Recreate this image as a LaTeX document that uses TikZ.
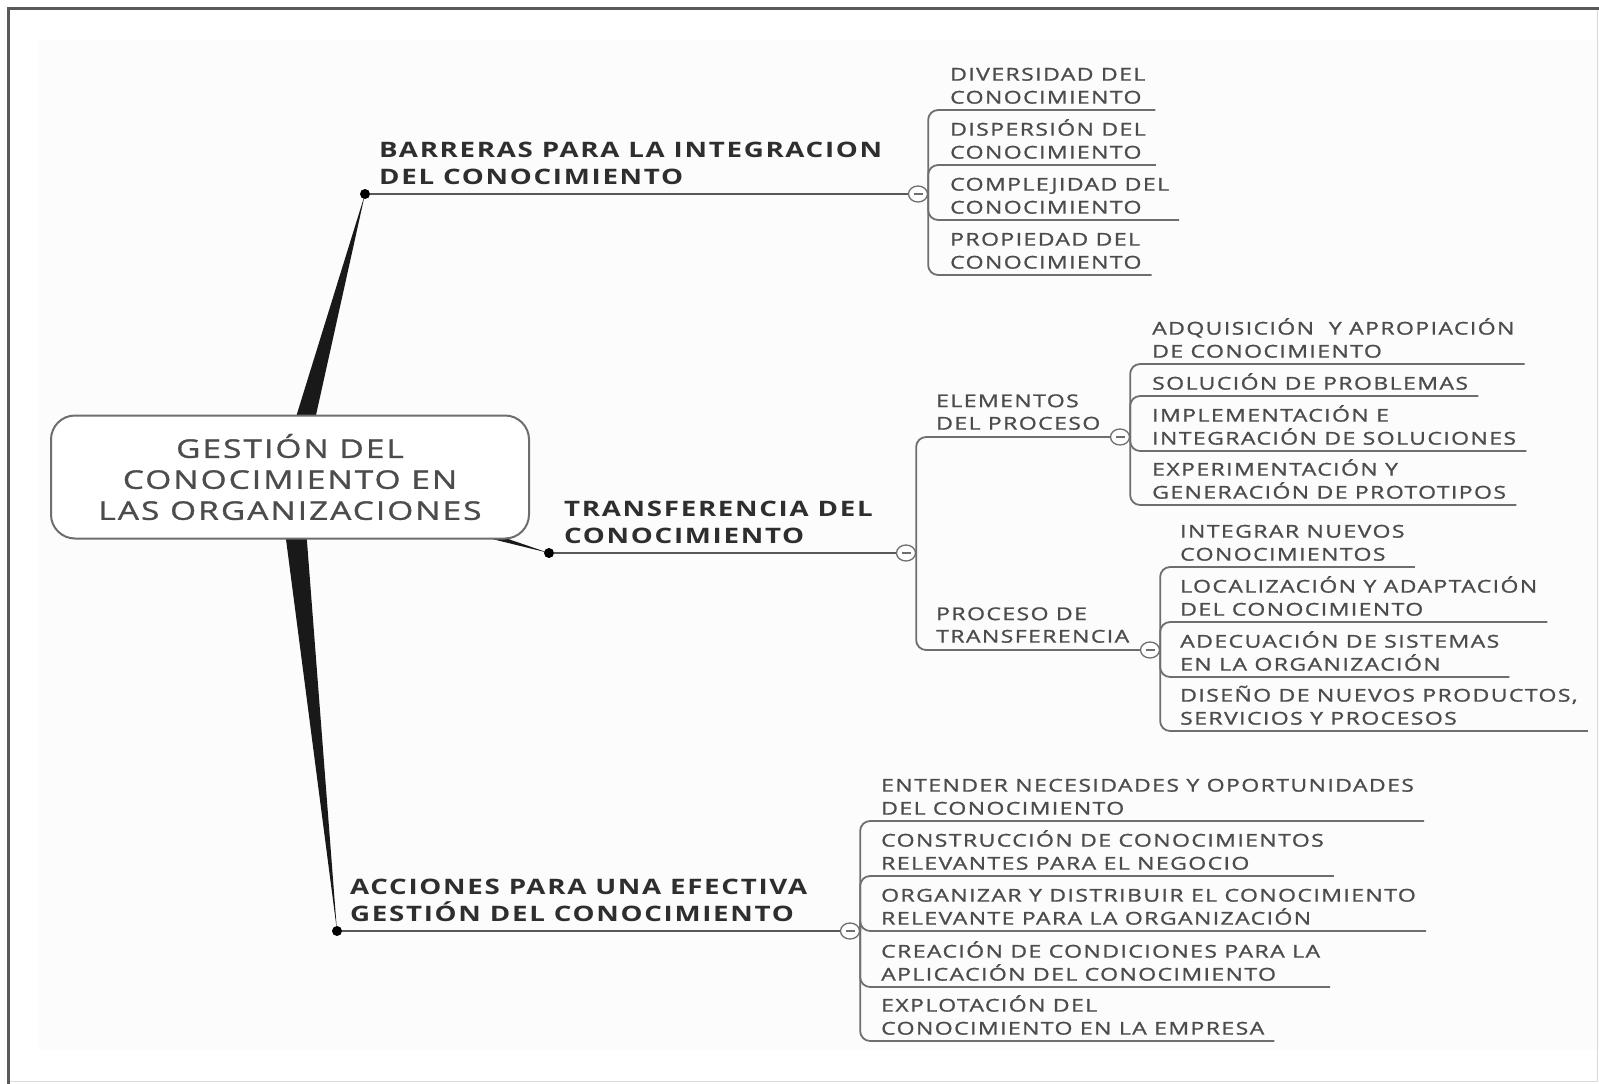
\documentclass[tikz,border=0pt]{standalone}
\usepackage{fontspec}
\setmainfont{Open Sans}[FakeStretch=1.3,LetterSpace=8]
\newfontfamily\mediumfam{Open Sans}[FakeStretch=1.3,LetterSpace=8,FakeBold=1.2]
\usetikzlibrary{calc,shapes.geometric}
\definecolor{inkgray}{HTML}{4C4C4C}
\definecolor{headink}{HTML}{2E2E2E}
\definecolor{rulegray}{HTML}{6E6E6E}

\begin{document}
\begin{tikzpicture}
  [x=1pt,y=-1pt,
   root/.style={draw=rulegray,line width=2pt,rounded corners=24pt,fill=white,
     minimum width=478pt,minimum height=123pt,align=center,
     font=\mediumfam\fontsize{25.7}{31}\selectfont,text=inkgray},
   knot/.style={circle,fill=black,inner sep=0pt,minimum size=10pt},
   wedge/.style={fill=black!90},
   head/.style={anchor=south west,inner xsep=0pt,inner ysep=9pt,align=left,
     font=\fontsize{21.3}{27.5}\selectfont\bfseries,text=headink},
   sub/.style={anchor=south west,inner xsep=0pt,inner ysep=7pt,align=left,
     font=\mediumfam\fontsize{17.7}{22.5}\selectfont,text=inkgray},
   leaf/.style={anchor=south west,inner xsep=10pt,inner ysep=6pt,align=left,
     font=\mediumfam\fontsize{17.7}{23}\selectfont,text=inkgray},
   fold/.style={ellipse,draw=rulegray,line width=1.3pt,fill=white,inner sep=0pt,
     minimum width=19pt,minimum height=16pt,
     path picture={\draw[rulegray,line width=1.2pt]
       ([xshift=5pt]path picture bounding box.west) --
       ([xshift=-5pt]path picture bounding box.east);}},
   branch/.style={draw=headink!80,line width=2pt},
   twig/.style={draw=rulegray,line width=1.8pt,rounded corners=10pt}]

  \useasboundingbox (0,0) rectangle (1599,1084);
  \fill[black!1] (38,40) rectangle (1599,1050);
  \draw[black!15,line width=1pt] (1597,8) -- (1597,1081) -- (8,1081);
  \draw[black!65,line width=3pt] (8,1084) -- (8,8) -- (1599,8);

  % main branches
  \coordinate (ctr) at (290,477);
  \node[knot] (b1) at (365,194) {};
  \node[knot] (b2) at (549,553) {};
  \node[knot] (b3) at (337,931) {};
  \foreach \tip in {b1,b2,b3}
    \fill[wedge] ($(ctr)!12pt!90:(\tip)$) -- (\tip.center)
      -- ($(ctr)!12pt!-90:(\tip)$) -- cycle;
  \node[root] (root) at (ctr) {GESTIÓN DEL\\CONOCIMIENTO EN\\LAS ORGANIZACIONES};

  \node[head] (hb) at (379,194) {BARRERAS PARA LA INTEGRACION\\DEL CONOCIMIENTO};
  \node[head] (ht) at (564,553) {TRANSFERENCIA DEL\\CONOCIMIENTO};
  \node[head] (ha) at (350,931) {ACCIONES PARA UNA EFECTIVA\\GESTIÓN DEL CONOCIMIENTO};

  \node[fold] (jb) at (918,194) {};
  \node[fold] (jt) at (906,553) {};
  \node[fold] (ja) at (850,931) {};
  \foreach \from/\to in {b1/jb, b2/jt, b3/ja}
    \draw[branch] (\from) -- (\to);

  % transferencia
  \node[sub] (el) at (936,437) {ELEMENTOS\\DEL PROCESO};
  \node[sub] (pt) at (936,650) {PROCESO DE\\TRANSFERENCIA};
  \node[fold] (je) at (1120,437) {};
  \node[fold] (jp) at (1150,650) {};
  \foreach \to in {je,jp}
    \draw[twig] (jt.east) |- (\to.west);

  % leaves
  \node[leaf] (b-div) at (940,110) {DIVERSIDAD DEL\\CONOCIMIENTO};
  \node[leaf] (b-dis) at (940,165) {DISPERSIÓN DEL\\CONOCIMIENTO};
  \node[leaf] (b-com) at (940,220) {COMPLEJIDAD DEL\\CONOCIMIENTO};
  \node[leaf] (b-pro) at (940,275) {PROPIEDAD DEL\\CONOCIMIENTO};

  \node[leaf] (e-adq) at (1142,364) {ADQUISICIÓN\ \ Y APROPIACIÓN\\DE CONOCIMIENTO};
  \node[leaf] (e-sol) at (1142,396) {SOLUCIÓN DE PROBLEMAS};
  \node[leaf] (e-imp) at (1142,451) {IMPLEMENTACIÓN E\\INTEGRACIÓN DE SOLUCIONES};
  \node[leaf] (e-exp) at (1142,505) {EXPERIMENTACIÓN Y\\GENERACIÓN DE PROTOTIPOS};

  \node[leaf] (p-int) at (1170,567) {INTEGRAR NUEVOS\\CONOCIMIENTOS};
  \node[leaf] (p-loc) at (1170,622) {LOCALIZACIÓN Y ADAPTACIÓN\\DEL CONOCIMIENTO};
  \node[leaf] (p-ade) at (1170,677) {ADECUACIÓN DE SISTEMAS\\EN LA ORGANIZACIÓN};
  \node[leaf] (p-dis) at (1170,731) {DISEÑO DE NUEVOS PRODUCTOS,\\SERVICIOS Y PROCESOS};

  \node[leaf] (a-ent) at (871,821) {ENTENDER NECESIDADES Y OPORTUNIDADES\\DEL CONOCIMIENTO};
  \node[leaf] (a-con) at (871,876) {CONSTRUCCIÓN DE CONOCIMIENTOS\\RELEVANTES PARA EL NEGOCIO};
  \node[leaf] (a-org) at (871,931) {ORGANIZAR Y DISTRIBUIR EL CONOCIMIENTO\\RELEVANTE PARA LA ORGANIZACIÓN};
  \node[leaf] (a-cre) at (871,987) {CREACIÓN DE CONDICIONES PARA LA\\APLICACIÓN DEL CONOCIMIENTO};
  \node[leaf] (a-exp) at (871,1041) {EXPLOTACIÓN DEL\\CONOCIMIENTO EN LA EMPRESA};

  \foreach \from/\to in {jb/b-div, jb/b-dis, jb/b-com, jb/b-pro,
      je/e-adq, je/e-sol, je/e-imp, je/e-exp,
      jp/p-int, jp/p-loc, jp/p-ade, jp/p-dis,
      ja/a-ent, ja/a-con, ja/a-org, ja/a-cre, ja/a-exp}
    \draw[twig] (\from.east) |- (\to.south east);
\end{tikzpicture}
\end{document}
